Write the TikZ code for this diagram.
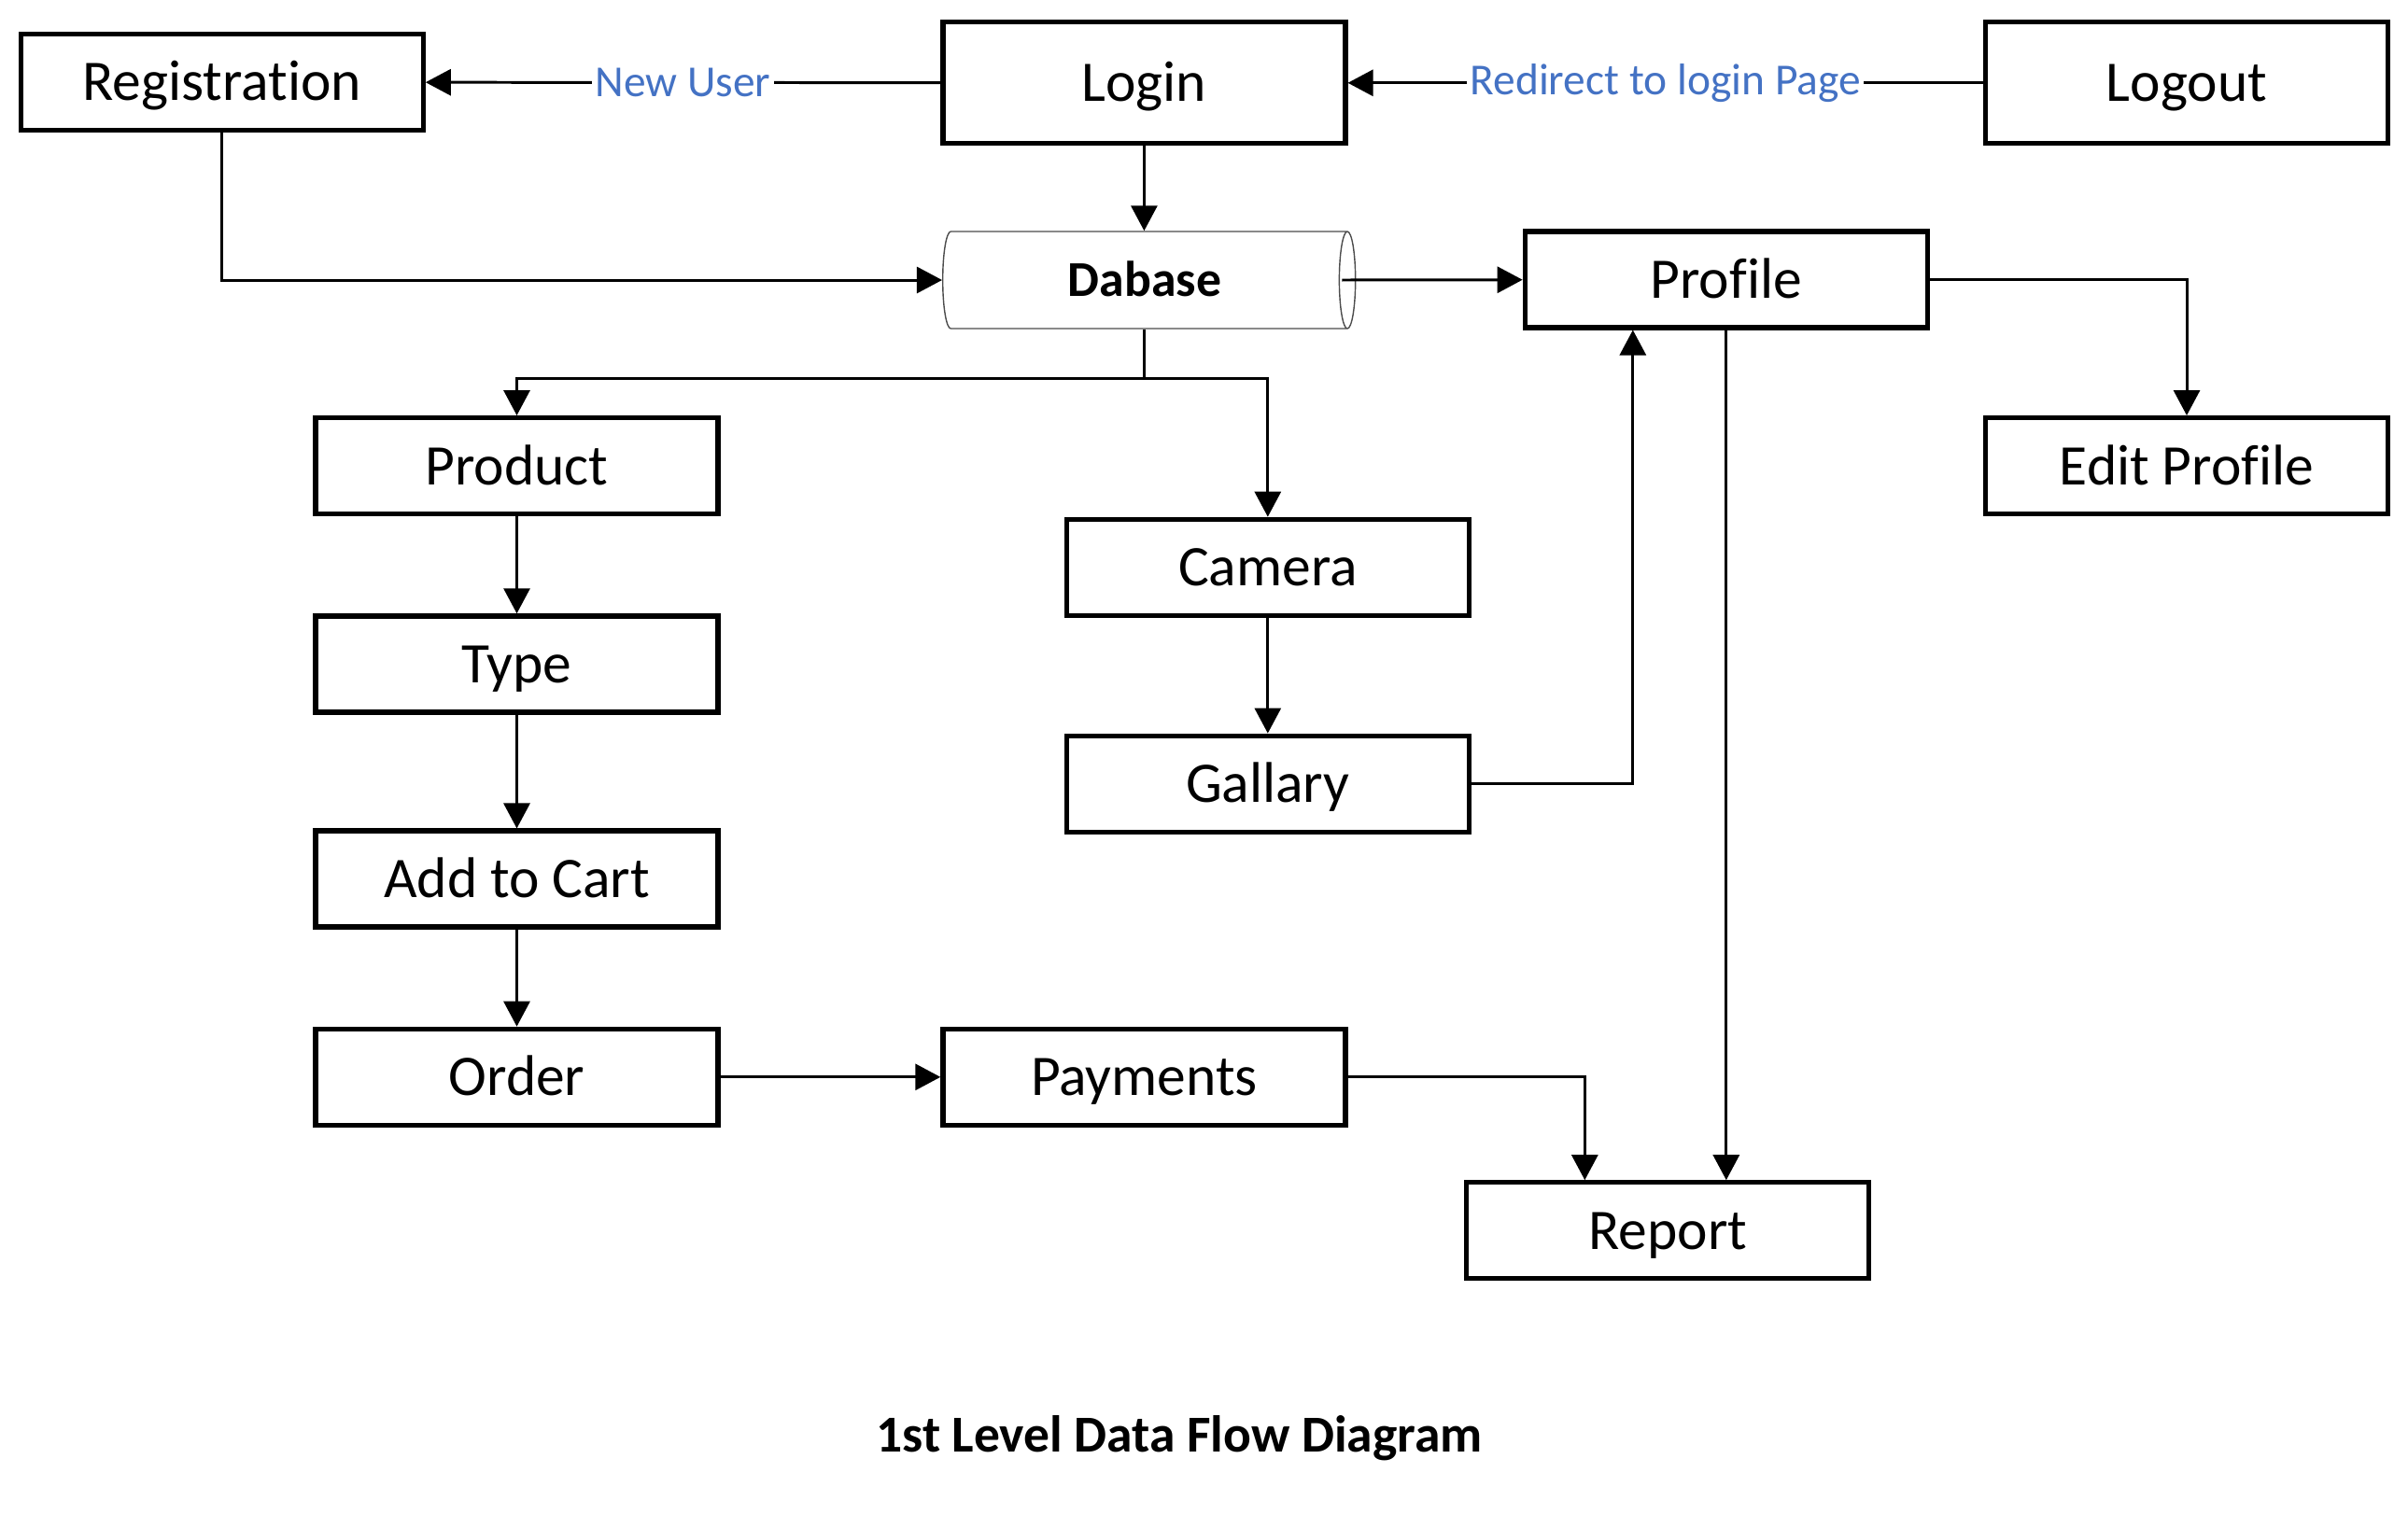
\documentclass[tikz,border=0pt]{standalone}
\usepackage{fontspec}
\setmainfont{Carlito}[Ligatures={NoCommon}]
\usetikzlibrary{shapes.geometric,arrows.meta}
\definecolor{flowblue}{RGB}{68,114,196}
\begin{document}
\begin{tikzpicture}[
    box/.style={draw,line width=1.5pt,minimum width=4.31cm,minimum height=1.03cm,
      inner sep=0pt,text height=11.3pt,text depth=0pt,font=\fontsize{17.5}{21}\selectfont},
    tallbox/.style={box,minimum height=1.3cm},
    store/.style={cylinder,draw=black!70,line width=0.4pt,shape aspect=0.5,
      minimum width=1.04cm,minimum height=4.42cm,inner sep=0pt,
      text height=9.85pt,text depth=0pt,font=\bfseries\fontsize{15.3}{18}\selectfont},
    flow/.style={-{Triangle[length=0.27cm,width=0.28cm]},line width=0.85pt},
    lbl/.style={fill=white,inner sep=1pt,text=flowblue,font=\fontsize{13.5}{16}\selectfont}
  ]
  \useasboundingbox (0,0) rectangle (25.79,-16.22);
  \node[box] (Registration) at (2.377,-0.88) {Registration};
  \node[tallbox] (Login) at (12.254,-0.888) {Login};
  \node[tallbox] (Logout) at (23.42,-0.888) {Logout};
  \node[store] (Dabase) at (12.26,-3.0) {Dabase};
  \node[box] (Profile) at (18.488,-2.994) {Profile};
  \node[box] (EditProfile) at (23.42,-4.992) {Edit Profile};
  \node[box] (Product) at (5.535,-4.992) {Product};
  \node[box] (Camera) at (13.578,-6.078) {Camera};
  \node[box] (Type) at (5.535,-7.114) {Type};
  \node[box] (Gallary) at (13.578,-8.397) {Gallary};
  \node[box] (AddCart) at (5.535,-9.416) {Add to Cart};
  \node[box] (Order) at (5.535,-11.538) {Order};
  \node[box] (Payments) at (12.254,-11.538) {Payments};
  \node[box] (Report) at (17.863,-13.183) {Report};
  \node[font=\bfseries\fontsize{15.8}{19}\selectfont] (Title) at (12.63,-15.41)
    {1st Level Data Flow Diagram};
  \coordinate (dbout) at ([xshift=-0.15cm]Dabase.east);
  \coordinate (dbbottom) at (Login |- Dabase.south);
  \coordinate (split) at ([yshift=-0.53cm]dbbottom);
  \begin{scope}[flow]
    \draw (Login) -- node[lbl]{New User} (Registration);
    \draw (Logout) -- node[lbl]{Redirect to login Page} (Login);
    \draw (Login) -- (Login |- Dabase.north);
    \draw (Registration) |- (Dabase.west);
    \draw (dbout) -- (Profile);
    \draw (dbbottom) -- (split) -| (Product);
    \draw (split) -| (Camera);
    \draw (Profile) -| (EditProfile);
    \draw (Product) -- (Type);
    \draw (Type) -- (AddCart);
    \draw (AddCart) -- (Order);
    \draw (Camera) -- (Gallary);
    \draw (Gallary) -| ([xshift=-1cm]Profile.south);
    \draw (Profile) -- (Profile |- Report.north);
    \draw (Order) -- (Payments);
    \draw (Payments) -| ([xshift=-0.89cm]Report.north);
  \end{scope}
\end{tikzpicture}
\end{document}
